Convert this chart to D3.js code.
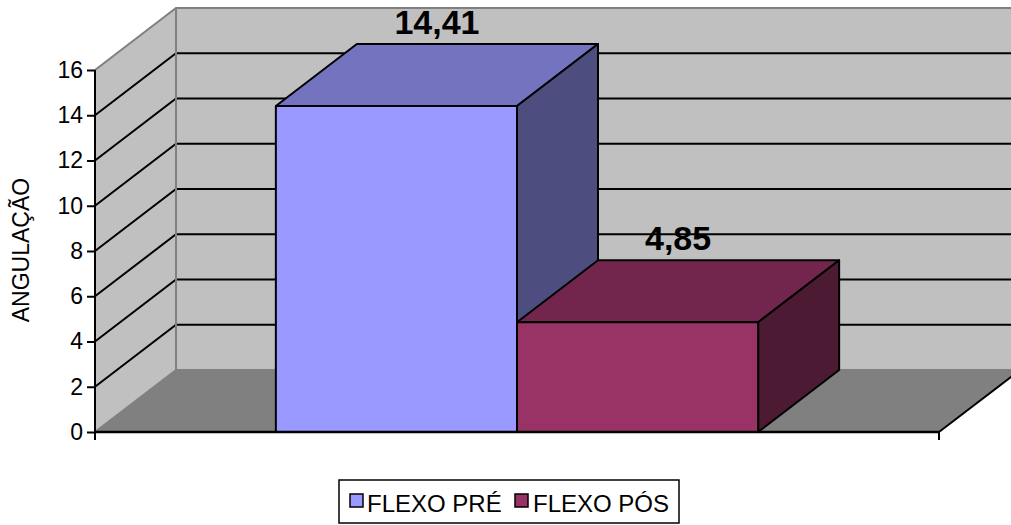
<!DOCTYPE html>
<html>
<head>
<meta charset="utf-8">
<script src="https://cdn.jsdelivr.net/npm/d3@7/dist/d3.min.js"></script>
<style>
  html, body { margin: 0; padding: 0; background: #fff; }
  svg { display: block; font-family: Arial, "Liberation Sans", sans-serif; }
</style>
</head>
<body>
<svg id="chart" width="1011" height="525"></svg>
<script>
// Data
const series = ["FLEXO PRÉ", "FLEXO PÓS"];
const values = [14.41, 4.85];
const valueLabels = ["14,41", "4,85"];
const yTicks = [0, 2, 4, 6, 8, 10, 12, 14, 16];
const frontColors = ["#9999FF", "#993366"];
const axisTitle = "ANGULAÇÃO";

// Layout
const W = 1011, H = 525;
const plot = { left: 95, right: 939, top: 70, bottom: 432 };
const depth = { dx: 81, dy: -62 };   // oblique offset from front plane to back wall

const svg = d3.select("#chart");
svg.append("defs").append("clipPath").attr("id", "cv")
  .append("rect").attr("width", W).attr("height", H);
const g = svg.append("g").attr("clip-path", "url(#cv)");

const y = d3.scaleLinear().domain([0, 16]).range([plot.bottom, plot.top]);
const x = d3.scaleBand().domain(series).range([plot.left, plot.right])
  .paddingInner(0).paddingOuter(0.75);

const shade = (c, k) => { const r = d3.rgb(c); return d3.rgb(r.r * k, r.g * k, r.b * k).formatHex(); };
const poly = pts => "M" + pts.map(p => p.join(",")).join("L") + "Z";

const y0 = y(0), yTop = y(16);
const xL = plot.left, xR = plot.right;
const bx = xL + depth.dx, bxR = xR + depth.dx;

// Walls and floor
g.append("path").attr("d", poly([[xL, y0], [xL, yTop], [bx, yTop + depth.dy], [bx, y0 + depth.dy]]))
  .attr("fill", "#C0C0C0");
g.append("path").attr("d", poly([[bx, yTop + depth.dy], [bxR + 40, yTop + depth.dy], [bxR + 40, y0 + depth.dy], [bx, y0 + depth.dy]]))
  .attr("fill", "#C0C0C0");
g.append("path").attr("d", poly([[xL, y0], [bx, y0 + depth.dy], [bxR, y0 + depth.dy], [xR, y0]]))
  .attr("fill", "#808080");

// Gridlines on side and back wall
const inner = yTicks.filter(t => t > 0 && t < 16);
inner.forEach(t => {
  g.append("path")
    .attr("d", `M${xL},${y(t)}L${bx},${y(t) + depth.dy}L${bxR + 40},${y(t) + depth.dy}`)
    .attr("fill", "none").attr("stroke", "#000").attr("stroke-width", 2);
});

// Wall edges
const edge = "#808080";
g.append("path")
  .attr("d", `M${xL},${yTop}L${bx},${yTop + depth.dy}L${bxR + 40},${yTop + depth.dy}`)
  .attr("fill", "none").attr("stroke", edge).attr("stroke-width", 2);
g.append("path")
  .attr("d", `M${bx},${yTop + depth.dy}L${bx},${y0 + depth.dy}L${bxR + 40},${y0 + depth.dy}`)
  .attr("fill", "none").attr("stroke", edge).attr("stroke-width", 2);
g.append("path")
  .attr("d", `M${xL},${y0}L${bx},${y0 + depth.dy}`)
  .attr("fill", "none").attr("stroke", edge).attr("stroke-width", 2);

// Floor right edge
g.append("path")
  .attr("d", `M${xR},${y0}L${bxR},${y0 + depth.dy}`)
  .attr("fill", "none").attr("stroke", "#000").attr("stroke-width", 2);

// Bars (front, top, side)
series.forEach((s, i) => {
  const x0 = x(s), x1 = x(s) + x.bandwidth();
  const yv = y(values[i]);
  const c = frontColors[i];
  const bg = g.append("g").attr("stroke", "#000").attr("stroke-width", 2).attr("stroke-linejoin", "round");
  bg.append("path").attr("d", poly([[x0, yv], [x0 + depth.dx, yv + depth.dy], [x1 + depth.dx, yv + depth.dy], [x1, yv]]))
    .attr("fill", shade(c, 0.75));
  bg.append("path").attr("d", poly([[x1, yv], [x1 + depth.dx, yv + depth.dy], [x1 + depth.dx, y0 + depth.dy], [x1, y0]]))
    .attr("fill", shade(c, 0.5));
  bg.append("path").attr("d", poly([[x0, yv], [x1, yv], [x1, y0], [x0, y0]]))
    .attr("fill", c);
});

// Value labels
series.forEach((s, i) => {
  g.append("text")
    .attr("x", x(s) + x.bandwidth() / 2 + depth.dx / 2)
    .attr("y", y(values[i]) + depth.dy / 2 - 41)
    .attr("text-anchor", "middle")
    .attr("font-size", 34).attr("font-weight", "bold").attr("fill", "#000")
    .text(valueLabels[i]);
});

// Axes
const axisG = svg.append("g").attr("transform", `translate(${xL},0)`);
axisG.call(d3.axisLeft(y).tickValues(yTicks).tickSize(8).tickPadding(4).tickFormat(d3.format("d")));
axisG.select(".domain").attr("stroke", "#000").attr("stroke-width", 2).attr("d", `M0,${yTop}V${y0}`);
axisG.selectAll(".tick line").attr("stroke", "#000").attr("stroke-width", 2);
axisG.selectAll(".tick text").attr("font-size", 23).attr("fill", "#000")
  .attr("font-family", "Arial, 'Liberation Sans', sans-serif");

const xAxis = svg.append("g");
xAxis.append("path").attr("d", `M${xL},${y0}H${xR}`).attr("stroke", "#000").attr("stroke-width", 2.5);
[xL, xR].forEach(px => xAxis.append("path").attr("d", `M${px},${y0}V${y0 + 8}`).attr("stroke", "#000").attr("stroke-width", 2));

// Axis title
svg.append("text")
  .attr("transform", `translate(29,250) rotate(-90)`)
  .attr("text-anchor", "middle")
  .attr("font-size", 23).attr("fill", "#000")
  .text(axisTitle);

// Legend
const lg = svg.append("g").attr("transform", "translate(339,480)");
lg.append("rect").attr("width", 340).attr("height", 43).attr("fill", "#fff").attr("stroke", "#000").attr("stroke-width", 1.5);
const items = [{ sx: 11, tx: 28 }, { sx: 176, tx: 194 }];
series.forEach((s, i) => {
  lg.append("rect").attr("x", items[i].sx).attr("y", 14).attr("width", 13).attr("height", 13)
    .attr("fill", frontColors[i]).attr("stroke", "#000").attr("stroke-width", 1.5);
  lg.append("text").attr("x", items[i].tx).attr("y", 32).attr("font-size", 24).attr("fill", "#000").text(s);
});
</script>
</body>
</html>
